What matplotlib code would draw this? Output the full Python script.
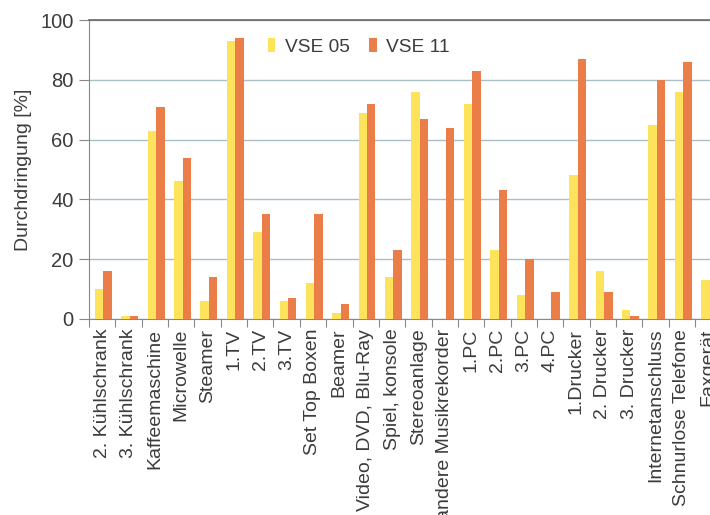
import matplotlib
matplotlib.use("Agg")
import matplotlib.pyplot as plt
import numpy as np

plt.rcParams['font.family'] = ['Liberation Sans', 'DejaVu Sans']

categories = ["2. Kühlschrank", "3. Kühlschrank", "Kaffeemaschine", "Microwelle",
              "Steamer", "1.TV", "2.TV", "3.TV", "Set Top Boxen", "Beamer",
              "Video, DVD, Blu-Ray", "Spiel, konsole", "Stereoanlage",
              "andere Musikrekorder", "1.PC", "2.PC", "3.PC", "4.PC", "1.Drucker",
              "2. Drucker", "3. Drucker", "Internetanschluss", "Schnurlose Telefone",
              "Faxgerät"]
vse05 = [10, 1, 63, 46, 6, 93, 29, 6, 12, 2, 69, 14, 76, 0, 72, 23, 8, 0, 48, 16, 3, 65, 76, 13]
vse11 = [16, 1, 71, 54, 14, 94, 35, 7, 35, 5, 72, 23, 67, 64, 83, 43, 20, 9, 87, 9, 1, 80, 86, 15]

yellow = '#fde35c'
orange = '#ea7d48'
txt = '#3c3c3c'

fig = plt.figure(figsize=(7.1, 5.15), dpi=100)
# axes runs past the right edge, as in the cropped original
ax = fig.add_axes([89/710, 196/515, 24*26.35/710, 299/515])

x = np.arange(len(categories))
w = 0.32
ax.bar(x + 0.39, vse05, w, color=yellow, label='VSE 05', zorder=3)
ax.bar(x + 0.71, vse11, w, color=orange, label='VSE 11', zorder=3)

ax.set_xlim(0, len(categories))
ax.set_ylim(0, 100)
ax.set_yticks([0, 20, 40, 60, 80, 100])
ax.set_xticks(np.arange(len(categories) + 1), minor=False)
ax.set_xticklabels([])
ax.set_xticks(x + 0.5, minor=True)
ax.set_xticklabels(categories, minor=True, rotation=90, fontsize=14, color=txt)
ax.tick_params(axis='x', which='minor', length=0, pad=7)
ax.tick_params(axis='x', which='major', length=6, color='#888888', direction='out')
ax.tick_params(axis='y', length=7, color='#888888', labelsize=14.5, labelcolor=txt, pad=4)

ax.yaxis.grid(True, color='#a9bfc8', linewidth=1, zorder=0)
for s in ['left', 'bottom']:
    ax.spines[s].set_color('#888888')
ax.spines['top'].set_color('#666666')
ax.spines['top'].set_linewidth(1.2)
ax.spines['right'].set_visible(False)

ax.set_ylabel('Durchdringung [%]', fontsize=14, color=txt, labelpad=6)

ax.legend(loc='upper left', bbox_to_anchor=(258/710, 1 - 28/515),
          bbox_transform=fig.transFigure, ncol=2, frameon=False,
          fontsize=13.8, handlelength=0.4, handleheight=0.8,
          handletextpad=0.5, columnspacing=1.0, borderpad=0, labelcolor=txt)

fig.savefig('out.png', dpi=100)
